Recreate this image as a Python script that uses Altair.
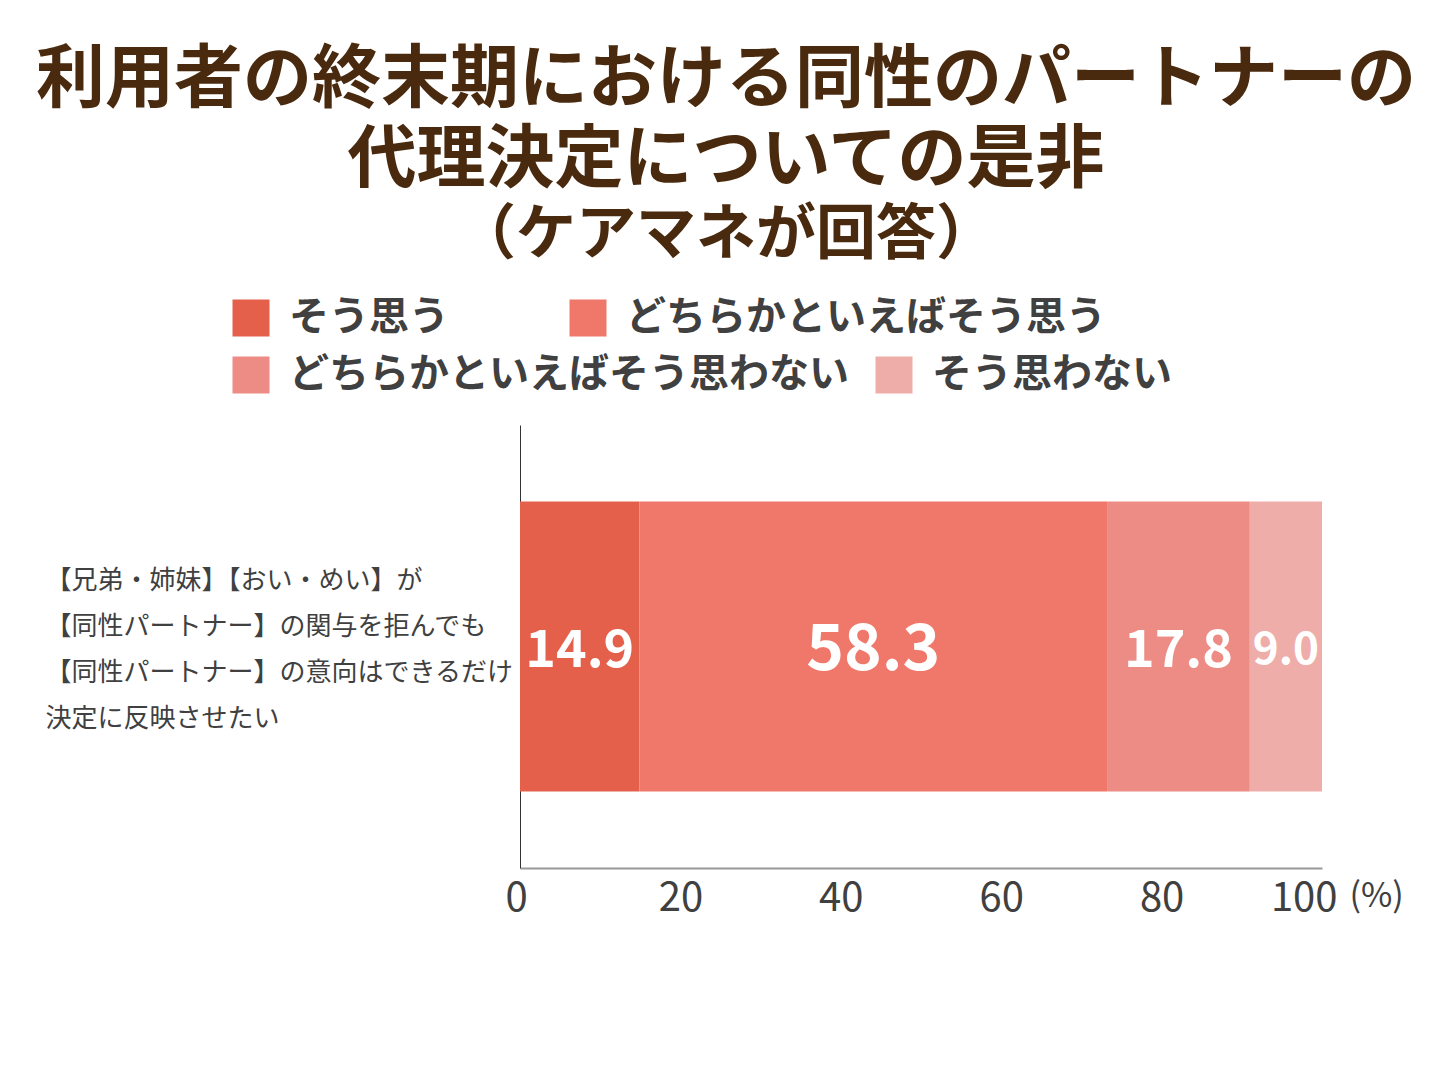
import altair as alt
import pandas as pd

# ---- data ----
categories = ["そう思う", "どちらかといえばそう思う", "どちらかといえばそう思わない", "そう思わない"]
values = [14.9, 58.3, 17.8, 9.0]
colors = ["#E5604A", "#F0786A", "#ED8C84", "#EFADA9"]
item_label = "【兄弟・姉妹】【おい・めい】が|【同性パートナー】の関与を拒んでも|【同性パートナー】の意向はできるだけ|決定に反映させたい"
x_ticks = [0, 20, 40, 60, 80, 100]
title_lines = ["利用者の終末期における同性のパートナーの", "代理決定についての是非"]
subtitle_text = "（ケアマネが回答）"

df = pd.DataFrame({
    "item": [item_label] * len(categories),
    "category": categories,
    "value": values,
    "order": list(range(len(categories))),
})

FONT = "Noto Sans CJK JP"
TXT = "#404040"

base = alt.Chart().transform_stack(
    stack="value", groupby=["item"], sort=[alt.SortField("order")], as_=["x0", "x1"]
).transform_calculate(mid="(datum.x0 + datum.x1) / 2")

x_enc = alt.X(
    "x0:Q",
    scale=alt.Scale(domain=[0, 100], nice=False, zero=True),
    axis=alt.Axis(
        values=x_ticks, title="(%)", grid=False, ticks=False,
        domainColor="#999999", domainWidth=2,
        labelFontSize=40, labelColor=TXT, labelFont=FONT, labelPadding=10,
        labelFlush=True, labelFlushOffset=15,
        titleFont=FONT, titleFontSize=34, titleFontWeight="normal", titleColor=TXT,
        titleAngle=0, titleAlign="left", titleBaseline="middle", titleX=829, titleY=28,
    ),
)
y_enc = alt.Y(
    "item:N",
    scale=alt.Scale(paddingOuter=0.264, paddingInner=0),
    axis=alt.Axis(
        title=None, ticks=False, domainColor="#333333", domainWidth=1,
        labelAlign="left", labelBaseline="middle", labelPadding=475, labelLimit=700,
        labelOffset=-66,
        labelExpr="split(datum.label, '|')", labelFontSize=26, labelLineHeight=46,
        labelColor=TXT, labelFont=FONT,
    ),
)

def legend(cols_pad, ly):
    return alt.Legend(
        title=None, orient="none", direction="horizontal", columns=2,
        legendX=-289, legendY=ly, columnPadding=cols_pad,
        symbolType="square", symbolSize=1369, symbolStrokeWidth=0,
        labelFontSize=40, labelFont=FONT, labelFontWeight="bold", labelColor=TXT,
        labelOffset=18, labelLimit=800, padding=0,
    )

bars1 = base.mark_bar().encode(
    x=x_enc, x2="x1:Q", y=y_enc,
    color=alt.Color("category:N", scale=alt.Scale(domain=categories[:2], range=colors[:2]),
                    legend=legend(119, -127)),
).transform_filter(alt.FieldOneOfPredicate(field="category", oneOf=categories[:2]))

bars2 = base.mark_bar().encode(
    x=x_enc, x2="x1:Q", y=y_enc,
    color=alt.Color("category:N", scale=alt.Scale(domain=categories[2:], range=colors[2:]),
                    legend=legend(25, -70)),
).transform_filter(alt.FieldOneOfPredicate(field="category", oneOf=categories[2:]))

size_rule = {
    "condition": [
        {"test": "datum.value > 50", "value": 64},
        {"test": "datum.value < 10", "value": 44},
    ],
    "value": 52,
}

labels = base.mark_text(color="white", fontWeight="bold", font=FONT, baseline="middle", dy=4).encode(
    x="mid:Q", y=alt.Y("item:N"),
    text=alt.Text("value:Q", format=".1f"),
    size=size_rule,
)

chart = alt.layer(bars1, bars2, labels, data=df).resolve_scale(color="independent").properties(
    width=802, height=443,
    padding={"left": 512, "top": 417, "right": 123, "bottom": 190},
    autosize=alt.AutoSizeParams(type="none"),
    title=alt.TitleParams(
        text=title_lines, subtitle=subtitle_text,
        font=FONT, fontSize=69, fontWeight="bold", color="#4A2A0E", lineHeight=80,
        subtitleFont=FONT, subtitleFontSize=60, subtitleFontWeight="bold", subtitleColor="#4A2A0E",
        subtitlePadding=11, anchor="middle", frame="group", dx=-195, offset=32,
    ),
).configure_view(stroke=None)

chart.save("out.html", embed_options={"renderer": "svg", "actions": False})
